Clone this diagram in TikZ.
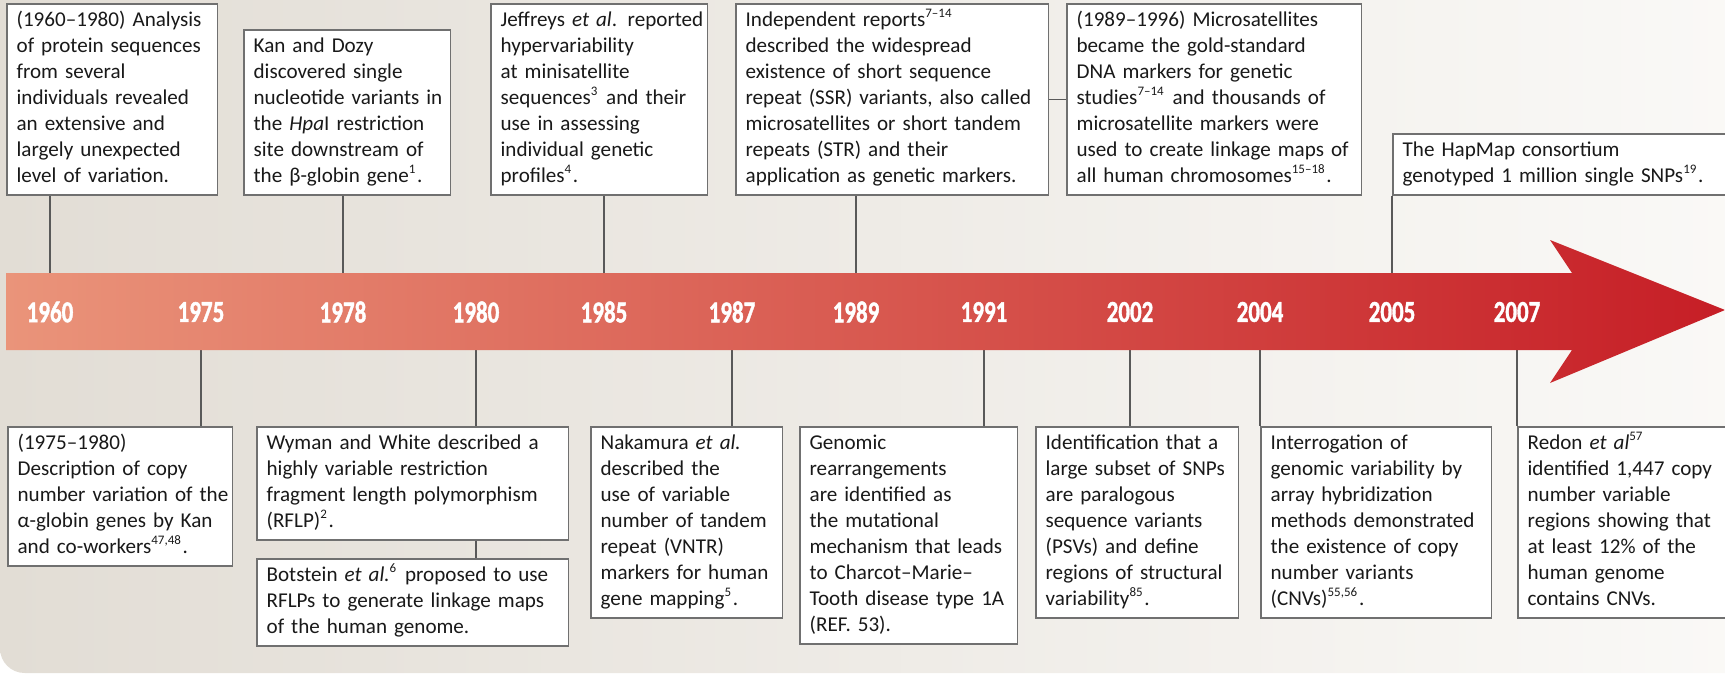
\documentclass[tikz,border=0pt]{standalone}
\usepackage{fontspec}
\setmainfont{Carlito}
\newfontfamily\yearfont[BoldFeatures={FakeBold=1.6}]{Carlito}
\usetikzlibrary{positioning}
\definecolor{panelL}{RGB}{226,221,213}
\definecolor{panelR}{RGB}{251,250,248}
\definecolor{bandL}{RGB}{234,148,122}
\definecolor{bandM}{RGB}{220,100,82}
\definecolor{bandR}{RGB}{198,30,38}
\definecolor{rulegray}{RGB}{112,112,112}
\newcommand{\yr}[1]{\scalebox{0.76}[1]{#1}}
\newcommand{\sy}[1]{\textsuperscript{\fontsize{3.7}{4}\selectfont #1}}
\newcommand{\tl}[1]{\begin{tabular}{@{}l@{}}#1\end{tabular}}

\begin{document}
\begin{tikzpicture}[x=0.01cm,y=-0.01cm,
    ev/.style={draw=rulegray,line width=0.45pt,fill=white,inner xsep=2.8pt,inner ysep=1.3pt,
        align=left,text=black!90,font=\fontsize{6.0}{7.4}\selectfont},
    up/.style={ev,anchor=south west},
    down/.style={ev,anchor=north west},
    link/.style={draw=black!65,line width=0.45pt},
    yearlab/.style={text=white,font=\fontsize{8.6}{9}\selectfont\yearfont\bfseries}]
    \useasboundingbox (0,0) rectangle (1725,673);
    \clip (0,0) rectangle (1725,673);
    % background panel
    \fill[white] (0,0) rectangle (1725,673);
    \shade[left color=panelL,right color=panelR,rounded corners=7pt] (0,-60) rectangle (1800,673);
    \coordinate (bandtop) at (0,273);
    \coordinate (bandbot) at (0,350);
    % year marks
    \foreach \yx/\yy in {50/1960,201/1975,343/1978,476/1980,604/1985,732/1987,856/1989,984/1991,1130/2002,1260/2004,1392/2005,1517/2007}{
        \coordinate (m\yy) at (\yx,312);
    }
    % events above the band
    \node[up,text width=1.91cm] (ev1960) at (6,196) {\tl{(1960--1980) Analysis\\of protein sequences\\from several\\individuals revealed\\an extensive and\\largely unexpected\\level of variation.}};
    \node[up,text width=1.87cm] (ev1978) at (243,196) {\tl{Kan and Dozy\\discovered single\\nucleotide variants in\\the \textit{Hpa}I restriction\\site downstream of\\the β-globin gene\sy{1}.}};
    \node[up,text width=1.97cm] (ev1985) at (490,196) {\tl{Jeffreys \textit{et al}. reported\\hypervariability\\at minisatellite\\sequences\sy{3} and their\\use in assessing\\individual genetic\\profiles\sy{4}.}};
    \node[up,text width=2.93cm] (ev1989) at (735,196) {\tl{Independent reports\sy{7--14}\\described the widespread\\existence of short sequence\\repeat (SSR) variants, also called\\microsatellites or short tandem\\repeats (STR) and their\\application as genetic markers.}};
    \node[up,text width=2.75cm] (ev1989b) at (1066,196) {\tl{(1989--1996) Microsatellites\\became the gold-standard\\DNA markers for genetic\\studies\sy{7--14} and thousands of\\microsatellite markers were\\used to create linkage maps of\\all human chromosomes\sy{15--18}.}};
    \node[up,text width=4cm] (ev2005) at (1392,196) {\tl{The HapMap consortium\\genotyped 1 million single SNPs\sy{19}.}};
    % events below the band
    \node[down,text width=2.05cm] (ev1975) at (7,426) {\tl{(1975--1980)\\Description of copy\\number variation of the\\α-globin genes by Kan\\and co-workers\sy{47,48}.}};
    \node[down,text width=2.92cm] (ev1980) at (256,426) {\tl{Wyman and White described a\\highly variable restriction\\fragment length polymorphism\\(RFLP)\sy{2}.}};
    \node[down,text width=2.92cm] (ev1980b) at (256,558) {\tl{Botstein \textit{et al.}\sy{6} proposed to use\\RFLPs to generate linkage maps\\of the human genome.}};
    \node[down,text width=1.72cm] (ev1987) at (590,426) {\tl{Nakamura \textit{et al.}\\described the\\use of variable\\number of tandem\\repeat (VNTR)\\markers for human\\gene mapping\sy{5}.}};
    \node[down,text width=1.98cm] (ev1991) at (799,426) {\tl{Genomic\\rearrangements\\are identified as\\the mutational\\mechanism that leads\\to Charcot--Marie--\\Tooth disease type 1A\\(REF.~53).}};
    \node[down,text width=1.83cm] (ev2002) at (1035,426) {\tl{Identification that a\\large subset of SNPs\\are paralogous\\sequence variants\\(PSVs) and define\\regions of structural\\variability\sy{85}.}};
    \node[down,text width=2.11cm] (ev2004) at (1260,426) {\tl{Interrogation of\\genomic variability by\\array hybridization\\methods demonstrated\\the existence of copy\\number variants\\(CNVs)\sy{55,56}.}};
    \node[down,text width=2.4cm] (ev2007) at (1517,426) {\tl{Redon \textit{et al}\sy{57}\\identified 1,447 copy\\number variable\\regions showing that\\at least 12\% of the\\human genome\\contains CNVs.}};
    % connectors
    \draw[link] (m1960 |- ev1960.south) -- (m1960 |- bandtop);
    \draw[link] (m1978 |- ev1978.south) -- (m1978 |- bandtop);
    \draw[link] (m1985 |- ev1985.south) -- (m1985 |- bandtop);
    \draw[link] (m1989 |- ev1989.south) -- (m1989 |- bandtop);
    \draw[link] (ev1989.east) -- (ev1989.east -| ev1989b.west);
    \draw[link] (m2005 |- ev2005.south) -- (m2005 |- bandtop);
    \draw[link] (m1975 |- bandbot) -- (m1975 |- ev1975.north);
    \draw[link] (m1980 |- bandbot) -- (m1980 |- ev1980.north);
    \draw[link] (m1980 |- ev1980.south) -- (m1980 |- ev1980b.north);
    \draw[link] (m1987 |- bandbot) -- (m1987 |- ev1987.north);
    \draw[link] (m1991 |- bandbot) -- (m1991 |- ev1991.north);
    \draw[link] (m2002 |- bandbot) -- (m2002 |- ev2002.north);
    \draw[link] (m2004 |- bandbot) -- (m2004 |- ev2004.north);
    \draw[link] (m2007 |- bandbot) -- (m2007 |- ev2007.north);
    % the time arrow
    \shade[left color=bandL,middle color=bandM,right color=bandR] (6,273) -- (1572,273) -- (1550,240) -- (1725,310) -- (1550,383) -- (1572,350) -- (6,350) -- cycle;
    \foreach \yy in {1960,1975,1978,1980,1985,1987,1989,1991,2002,2004,2005,2007}{
        \node[yearlab] (y\yy) at (m\yy) {\yr{\yy}};
    }
\end{tikzpicture}
\end{document}
